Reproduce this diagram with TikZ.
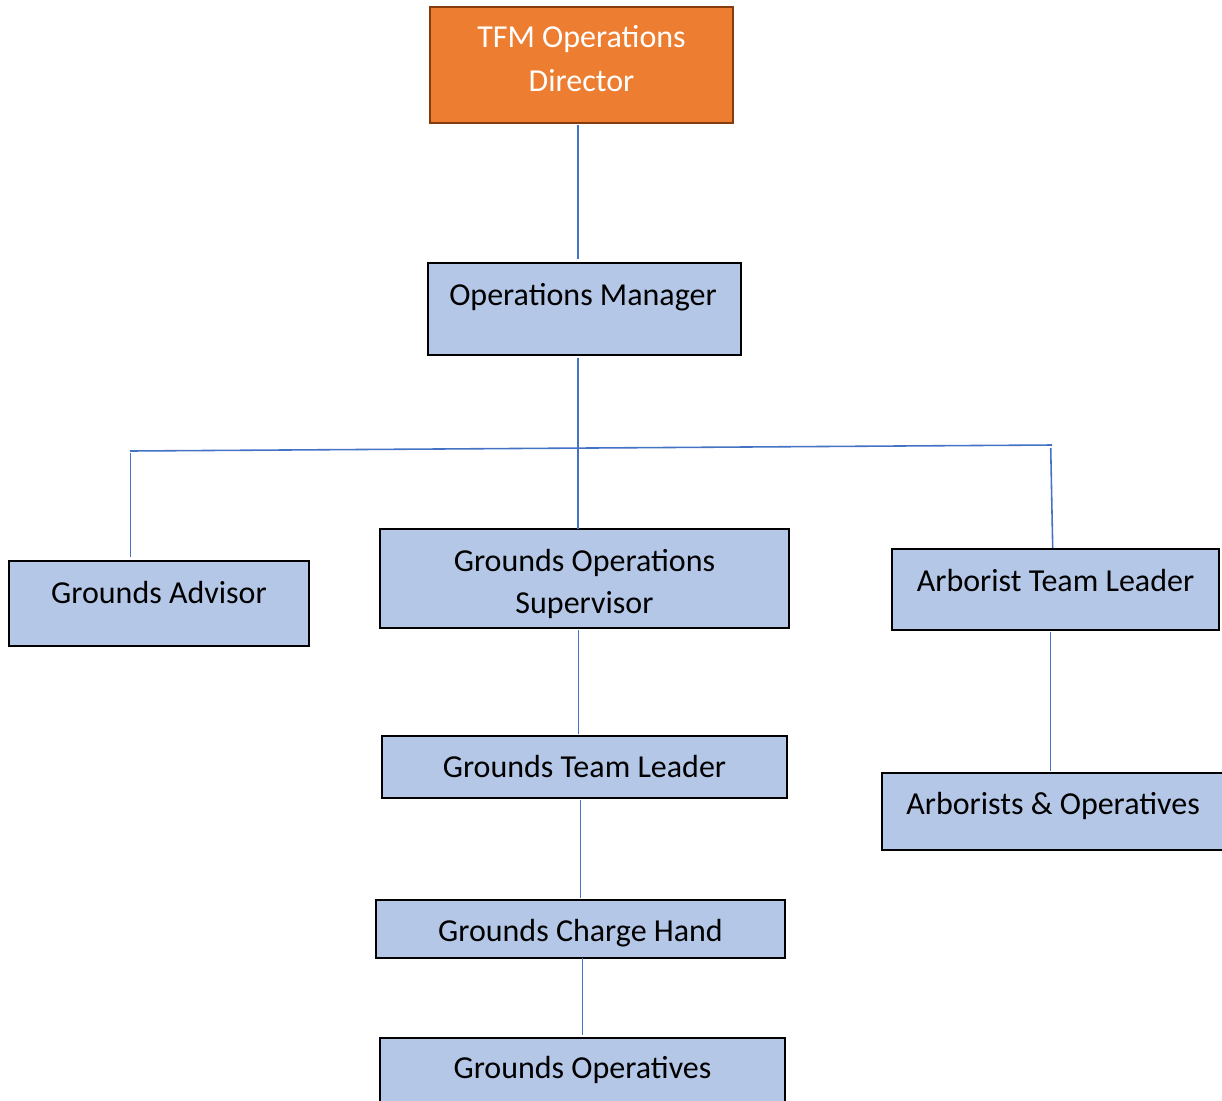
\documentclass[tikz,border=0pt]{standalone}
\usepackage{fontspec}
\setmainfont{Carlito}
\definecolor{boxfill}{HTML}{B4C7E7}
\definecolor{orgfill}{HTML}{ED7D31}
\definecolor{orgline}{HTML}{843C0C}
\definecolor{conn}{HTML}{4472C4}
\begin{document}
\begin{tikzpicture}[x=0.01cm,y=-0.01cm,
  bluebox/.style={draw=black,fill=boxfill,line width=0.6pt},
  orangebox/.style={draw=orgline,fill=orgfill,line width=0.75pt},
  lbl/.style={anchor=base,inner sep=0pt,font=\fontsize{9.1}{12}\selectfont},
  wire/.style={draw=conn,line width=0.45pt}]
\useasboundingbox (0,0) rectangle (1222,1100);
\clip (0,0) rectangle (1222,1100);
% boxes
\path[orangebox] (430,7) rectangle (733,123);
\path[bluebox] (428,263) rectangle (741,355);
\path[bluebox] (9,561) rectangle (309,646);
\path[bluebox] (380,529) rectangle (789,628);
\path[bluebox] (892,549) rectangle (1219,630);
\path[bluebox] (382,736) rectangle (787,798);
\path[bluebox] (882,773) rectangle (1228,850);
\path[bluebox] (376,900) rectangle (785,958);
\path[bluebox] (380,1038) rectangle (785,1110);
% labels
\node[lbl,text=white] (dir1) at (581.5,47) {TFM Operations};
\node[lbl,text=white] (dir2) at (581.5,91) {Director};
\node[lbl] (om) at (583,305) {Operations Manager};
\node[lbl] (ga) at (159,603) {Grounds Advisor};
\node[lbl] (gos1) at (584.5,571) {Grounds Operations};
\node[lbl] (gos2) at (584.5,613) {Supervisor};
\node[lbl] (atl) at (1055.5,591) {Arborist Team Leader};
\node[lbl] (gtl) at (584.5,777) {Grounds Team Leader};
\node[lbl] (ao) at (1053,814) {Arborists \& Operatives};
\node[lbl] (gch) at (580.5,941) {Grounds Charge Hand};
\node[lbl] (go) at (582.5,1078) {Grounds Operatives};
% connector end points
\coordinate (a1) at (578,125);  \coordinate (a2) at (578,259);
\coordinate (b1) at (578,358);  \coordinate (b2) at (578,529);
\coordinate (hl) at (130,451);  \coordinate (hr) at (1052,445);
\coordinate (c1) at (130.7,453); \coordinate (c2) at (130.7,557);
\coordinate (d1) at (1050.7,448); \coordinate (d2) at (1052.7,548);
\coordinate (e1) at (578.5,630); \coordinate (e2) at (578.5,734);
\coordinate (f1) at (580.5,800); \coordinate (f2) at (580.5,898);
\coordinate (g1) at (582.5,958); \coordinate (g2) at (582.5,1035);
\coordinate (h1) at (1050.5,632); \coordinate (h2) at (1050.5,771);
\draw[wire] (a1) -- (a2);
\draw[wire] (b1) -- (b2);
\draw[wire] (hl) -- (hr);
\draw[wire] (c1) -- (c2);
\draw[wire] (d1) -- (d2);
\draw[wire] (e1) -- (e2);
\draw[wire] (f1) -- (f2);
\draw[wire] (g1) -- (g2);
\draw[wire] (h1) -- (h2);
\end{tikzpicture}
\end{document}
